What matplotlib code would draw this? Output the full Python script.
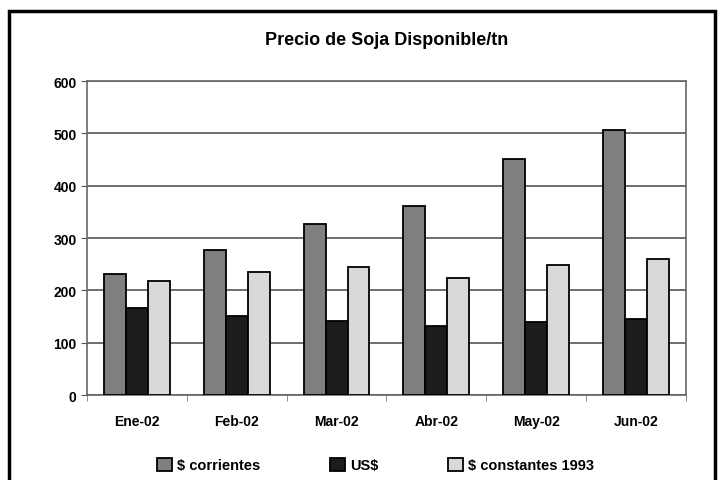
import numpy as np
import matplotlib.pyplot as plt
from matplotlib.patches import Rectangle

plt.rcParams['font.family'] = ['Liberation Sans', 'DejaVu Sans']
plt.rcParams['font.weight'] = 'bold'

meses = ['Ene-02', 'Feb-02', 'Mar-02', 'Abr-02', 'May-02', 'Jun-02']
corrientes = [232, 277, 327, 361, 451, 506]
us = [166, 151, 141, 132, 140, 145]
constantes = [218, 235, 245, 224, 248, 260]

fig = plt.figure(figsize=(7.22, 4.81), dpi=100)
ax = fig.add_axes([0.1205, 0.1767, 0.8295, 0.6528])

x = np.arange(len(meses))
w = 0.22
ax.bar(x - w, corrientes, w, color='#7f7f7f', edgecolor='black', lw=1.3, label='$ corrientes', zorder=3)
ax.bar(x, us, w, color='#1c1c1c', edgecolor='black', lw=1.3, label='US$', zorder=3)
ax.bar(x + w, constantes, w, color='#d9d9d9', edgecolor='black', lw=1.3, label='$ constantes 1993', zorder=3)

ax.set_ylim(0, 600)
ax.set_xlim(-0.5, len(meses) - 0.5)
ax.set_yticks(range(0, 601, 100))
ax.yaxis.grid(True, color='#555555', lw=1.2, zorder=0)
ax.set_xticks(x)
ax.set_xticklabels(meses)
ax.set_xticks(np.arange(-0.5, len(meses), 1), minor=True)
ax.tick_params(axis='x', which='major', length=0, pad=14, labelsize=10)
ax.tick_params(axis='x', which='minor', length=4, color='#777777')
ax.tick_params(axis='y', length=4, labelsize=10, color='#555555')
for s in ax.spines.values():
    s.set_color('#666666')
    s.set_linewidth(1.2)

ax.set_title('Precio de Soja Disponible/tn', fontsize=13, fontweight='bold', pad=27)

fig.legend(loc='center', bbox_to_anchor=(0.52, 0.031), ncol=3, frameon=False,
           fontsize=10.5, handlelength=1.0, handleheight=1.0, columnspacing=4.8,
           handletextpad=0.35)

fig.patches.append(Rectangle((0.012, -0.1), 0.978, 1.075, transform=fig.transFigure,
                             fill=False, edgecolor='black', lw=2.5))

fig.savefig('out.png', dpi=100)
